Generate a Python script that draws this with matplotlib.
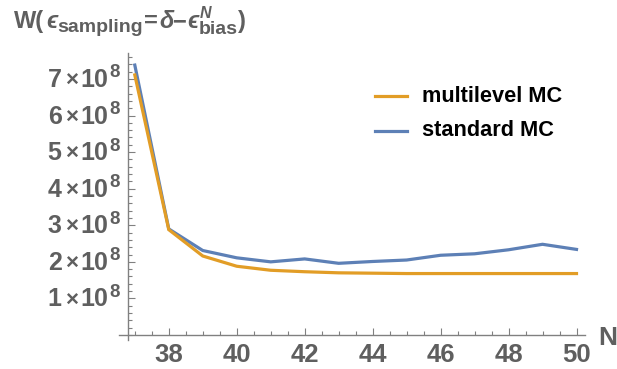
import matplotlib
matplotlib.use("Agg")
import matplotlib.pyplot as plt
from matplotlib.ticker import MultipleLocator, FixedLocator, NullFormatter

plt.rcParams['font.family'] = ['Liberation Sans', 'DejaVu Sans']

# Sample count N and work estimates
N = [37, 38, 39, 40, 41, 42, 43, 44, 45, 46, 47, 48, 49, 50]
multilevel_mc = [7.11e8, 2.88e8, 2.16e8, 1.88e8, 1.77e8, 1.73e8, 1.70e8,
                 1.69e8, 1.68e8, 1.68e8, 1.68e8, 1.68e8, 1.68e8, 1.68e8]
standard_mc = [7.38e8, 2.90e8, 2.31e8, 2.11e8, 2.00e8, 2.08e8, 1.96e8,
               2.01e8, 2.05e8, 2.18e8, 2.22e8, 2.33e8, 2.48e8, 2.34e8]
y_major = [1e8, 2e8, 3e8, 4e8, 5e8, 6e8, 7e8]
x_major = [38, 40, 42, 44, 46, 48, 50]
series_names = ['multilevel MC', 'standard MC']

ORANGE = '#E29D26'
BLUE = '#5D80B6'
GRAY = '#5F5F5F'
AXIS = '#808080'

W, H = 617, 369
fig = plt.figure(figsize=(W / 100, H / 100), dpi=100)
renderer = fig.canvas.get_renderer()
L, R, T, B = 128, 585, 53, 335
ax = fig.add_axes([L / W, 1 - B / H, (R - L) / W, (B - T) / H])

ax.plot(N, standard_mc, color=BLUE, lw=2.3, solid_joinstyle='miter', zorder=3)
ax.plot(N, multilevel_mc, color=ORANGE, lw=2.3, solid_joinstyle='miter', zorder=4)

ax.set_xlim(36.8, 50.25)
ax.set_ylim(0, 7.71e8)

for s in ax.spines.values():
    s.set_visible(False)
# Axis lines that reach slightly past the origin
ax.plot([-0.02, 1.0], [0, 0], transform=ax.transAxes, color=AXIS, lw=1.0,
        clip_on=False, zorder=2)
ax.plot([0, 0], [-0.018, 1.0], transform=ax.transAxes, color=AXIS, lw=1.0,
        clip_on=False, zorder=2)

ax.xaxis.set_major_locator(FixedLocator(x_major))
ax.xaxis.set_minor_locator(MultipleLocator(0.5))
ax.yaxis.set_major_locator(FixedLocator(y_major))
ax.yaxis.set_minor_locator(MultipleLocator(0.2e8))
ax.yaxis.set_major_formatter(NullFormatter())

ax.tick_params(which='both', direction='in', color=AXIS, width=0.8)
ax.tick_params(which='major', length=5)
ax.tick_params(which='minor', length=3)
ax.tick_params(axis='x', which='major', pad=6, labelsize=18.5, labelcolor=GRAY)
for lab in ax.get_xticklabels():
    lab.set_fontweight('bold')


def put(x_px, base_px, s, size, ha='left', style='normal', color=GRAY):
    """Place one text run with its baseline at a pixel row (from the top)."""
    t = fig.text(x_px / W, 1 - base_px / H, s, fontsize=size, fontweight='bold',
                 fontstyle=style, color=color, ha=ha, va='baseline')
    return t.get_window_extent(renderer).width


def run(x_px, base_px, pieces):
    """Lay out (text, size, style, baseline shift, gap) pieces left to right."""
    for s, size, style, dy, gap in pieces:
        x_px += put(x_px, base_px + dy, s, size, style=style) + gap
    return x_px


# y tick labels of the form  k × 10^8
for v in y_major:
    yp = H - ax.transData.transform((0, v))[1]
    k = round(v / 1e8)
    base = yp + 8
    put(109, yp - 1.5, '8', 13.5)
    x = 108.5 - put(108.5, base, '10', 18, ha='right') - 3
    x -= put(x, base - 1, '×', 16, ha='right') + 3
    put(x, base, str(k), 18, ha='right')

# Title  W(ϵ_sampling = δ − ϵ^N_bias)
x = run(14, 28, [('W(', 17, 'normal', 0, 2),
                 ('ϵ', 17, 'italic', 0, 0),
                 ('sampling', 14, 'normal', 4, 1),
                 ('=', 17, 'normal', 0, 1),
                 ('δ', 17, 'italic', 0, 0),
                 ('−', 17, 'normal', 0, 0),
                 ('ϵ', 17, 'italic', 0, 0)])
w_sup = put(x + 1, 18.5, 'N', 11.5, style='italic')
w_sub = put(x, 34.5, 'bias', 14)
put(x + max(w_sup, w_sub) + 0.5, 28, ')', 17)

put(598, 345, 'N', 19)

# Legend
for y, c, name in [(96, ORANGE, series_names[0]), (131, BLUE, series_names[1])]:
    fig.add_artist(plt.Line2D([375 / W, 407 / W], [1 - y / H, 1 - y / H],
                              color=c, lw=2.3))
    put(422, y + 5.5, name, 15.7, color='black')

fig.savefig('out.png', dpi=100)
